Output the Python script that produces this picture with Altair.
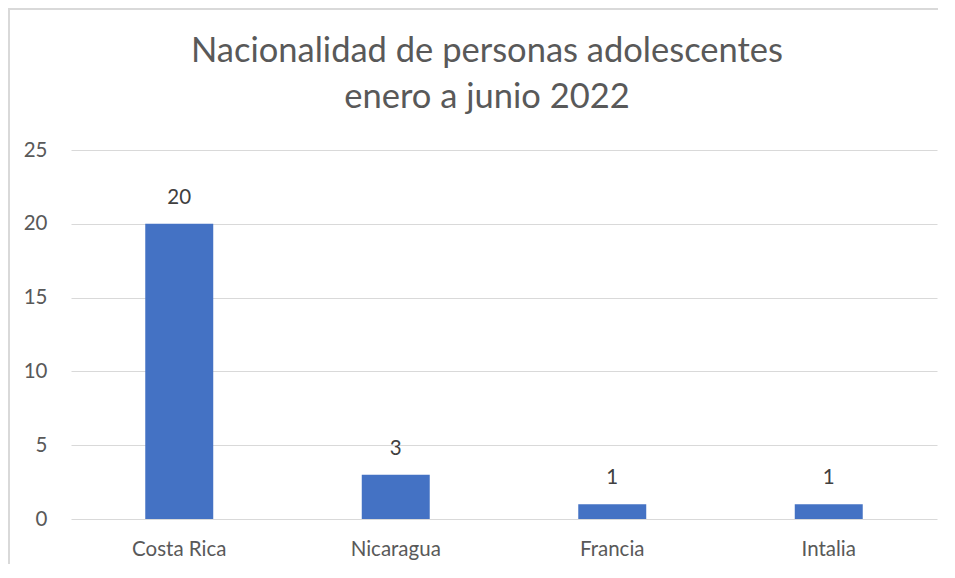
import altair as alt
import pandas as pd

categories = ["Costa Rica", "Nicaragua", "Francia", "Intalia"]
values = [20, 3, 1, 1]
title_lines = ["Nacionalidad de personas adolescentes", "enero a junio 2022"]

df = pd.DataFrame({"pais": categories, "n": values})

W, H = 866, 369
FONT = "Lato"

x_enc = alt.X("pais:N", sort=categories, title=None,
              scale=alt.Scale(paddingInner=0.686, paddingOuter=0.343),
              axis=alt.Axis(labelAngle=0, labelFontSize=20.5, labelColor="#595959",
                            labelFont=FONT, labelPadding=20, ticks=False,
                            domain=False, grid=False))
y_enc = alt.Y("n:Q", title=None,
              scale=alt.Scale(domain=[0, 25]),
              axis=alt.Axis(values=[0, 5, 10, 15, 20, 25], labelFontSize=20.5,
                            labelColor="#595959", labelFont=FONT, labelPadding=24,
                            ticks=False, domain=False, gridColor="#d9d9d9",
                            gridWidth=1.2))

base = alt.Chart(df)
one = base.transform_filter(alt.datum.pais == categories[0])

left_border = one.mark_rect(color="#d9d9d9").encode(
    x=alt.value(-63), x2=alt.value(-61), y=alt.value(-142), y2=alt.value(H + 45))
top_border = one.mark_rect(color="#d9d9d9").encode(
    x=alt.value(-63), x2=alt.value(W + 1), y=alt.value(-142), y2=alt.value(-140))

title1 = one.mark_text(fontSize=34.5, color="#595959", font=FONT, baseline="alphabetic",
                       align="center").encode(
    x=alt.value(416), y=alt.value(-88), text=alt.value(title_lines[0]))
title2 = one.mark_text(fontSize=34.5, color="#595959", font=FONT, baseline="alphabetic",
                       align="center").encode(
    x=alt.value(416), y=alt.value(-42), text=alt.value(title_lines[1]))

bars = base.mark_bar(color="#4472C4").encode(x=x_enc, y=y_enc)
labels = base.mark_text(baseline="bottom", dy=-16, fontSize=20.5, color="#404040",
                        font=FONT).encode(x=x_enc, y=y_enc, text="n:Q")

chart = alt.layer(left_border, top_border, title1, title2, bars, labels).properties(
    width=W, height=H,
    autosize=alt.AutoSizeParams(type="none"),
    padding={"left": 63, "top": 142, "right": 1, "bottom": 45},
).configure_view(stroke=None)

chart.save("out.html", embed_options={"renderer": "svg", "actions": False})
